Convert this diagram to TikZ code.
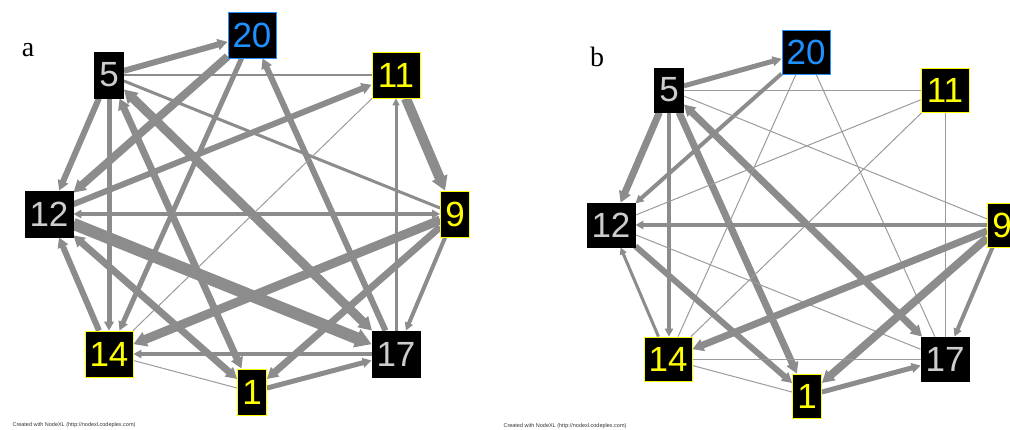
\documentclass[tikz,border=0pt]{standalone}
\usepackage{fontspec}
\setmainfont{Liberation Serif}
\newfontfamily\numfont{Liberation Sans}
\usetikzlibrary{arrows.meta}
\pgfdeclarelayer{bg}
\pgfsetlayers{bg,main}
\definecolor{eg}{RGB}{140,140,140}
\definecolor{eglight}{RGB}{155,155,155}
\definecolor{nblue}{RGB}{30,144,255}
\definecolor{ngrey}{RGB}{205,205,205}
\definecolor{nyel}{RGB}{255,255,0}
\tikzset{
 nbox/.style={rectangle, fill=black, inner sep=0pt, line width=0.8pt,
   font=\numfont\fontsize{35}{35}\selectfont},
 pa/.style={minimum height=46pt},
 pb/.style={minimum height=44pt},
 wide/.style={minimum width=48pt},
 narrow/.style={minimum width=29pt},
 gtxt/.style={nbox, draw=black, text=ngrey},
 ytxt/.style={nbox, draw=nyel, text=nyel},
 btxt/.style={nbox, draw=nblue, text=nblue},
 lnk/.style={draw=eg, line width=#1},
 hair/.style={draw=eglight, line width=1pt},
 ntip/.tip={Triangle[length=4pt 1.0, width=3pt 1.3]},
 fwd/.style={-ntip},
 both/.style={ntip-ntip},
 plabel/.style={font=\fontsize{28}{28}\selectfont},
 foot/.style={font=\numfont\fontsize{5.5}{6}\selectfont, anchor=west, text=black!80},
}
\begin{document}
\begin{tikzpicture}[x=1pt,y=-1pt]
\useasboundingbox (0,0) rectangle (1010,429);
\clip (0,0) rectangle (1010,429);

% ---------- panel a nodes ----------
\node[plabel] (la) at (28,50) {a};
\node[btxt,wide,pa] (a20) at (252,35) {20};
\node[gtxt,narrow,pa] (a5) at (109,75) {5};
\node[ytxt,wide,pa] (a11) at (396,75) {11};
\node[gtxt,wide,pa] (a12) at (49,214) {12};
\node[ytxt,narrow,pa] (a9) at (455,214) {9};
\node[ytxt,wide,pa] (a14) at (109,354) {14};
\node[gtxt,wide,pa] (a17) at (396,354) {17};
\node[ytxt,narrow,pa] (a1) at (252,392) {1};
\node[foot] (fa) at (9,425) {Created with NodeXL (http://nodexl.codeplex.com)};

% ---------- panel b nodes ----------
\node[plabel] (lb) at (597,57) {b};
\node[btxt,wide,pb] (b20) at (806,52) {20};
\node[gtxt,narrow,pb] (b5) at (669,90) {5};
\node[ytxt,wide,pb] (b11) at (945,90) {11};
\node[gtxt,wide,pb] (b12) at (611,225) {12};
\node[ytxt,narrow,pb] (b9) at (1002,225) {9};
\node[ytxt,wide,pb] (b14) at (668,359) {14};
\node[gtxt,wide,pb] (b17) at (945,359) {17};
\node[ytxt,narrow,pb] (b1) at (807,396) {1};
\node[foot] (fb) at (500,426) {Created with NodeXL (http://nodexl.codeplex.com)};

\begin{pgfonlayer}{bg}
% ---------- panel a edges ----------
\draw[lnk=6pt,fwd] (a5) -- (a20);
\draw[lnk=2pt] (a5) -- (a11);
\draw[lnk=6pt,fwd] (a5) -- (a12);
\draw[lnk=8pt,fwd] (a20) -- (a12);
\draw[lnk=6pt,fwd] (a12) -- (a11);
\draw[lnk=5pt,fwd] (a5.south) -- (a14.north -| a5.south);
\draw[lnk=5pt,fwd] (a20) -- (a14);
\draw[lnk=7pt,both] (a5) -- (a1);
\draw[lnk=9pt,both] (a5) -- (a17);
\draw[lnk=3pt] (a5) -- (a9);
\draw[lnk=6pt,fwd] (a17) -- (a20);
\draw[lnk=10pt,fwd] (a11) -- (a9);
\draw[lnk=3pt,fwd] (a17) -- (a11);
\draw[hair] (a14) -- (a11);
\draw[lnk=4pt,both] (a12) -- (a9);
\draw[lnk=12pt,fwd] (a12) -- (a17);
\draw[lnk=7pt,both] (a12) -- (a1);
\draw[lnk=6pt,fwd] (a14) -- (a12);
\draw[lnk=9pt,fwd] (a9) -- (a14);
\draw[lnk=4pt,fwd] (a17) -- (a14);
\draw[hair] (a14) -- (a1);
\draw[lnk=5pt,fwd] (a1) -- (a17);
\draw[lnk=7pt,fwd] (a9) -- (a1);
\draw[lnk=4pt,fwd] (a9) -- (a17);

% ---------- panel b edges ----------
\draw[lnk=5pt,fwd] (b5) -- (b20);
\draw[hair] (b5) -- (b11);
\draw[lnk=7pt,fwd] (b5) -- (b12);
\draw[lnk=4pt,fwd] (b20) -- (b12);
\draw[lnk=4pt,fwd] (b5.south) -- (b14.north -| b5.south);
\draw[lnk=7pt,fwd] (b5) -- (b1);
\draw[lnk=7pt,both] (b5) -- (b17);
\draw[hair] (b5) -- (b9);
\draw[hair] (b20) -- (b14);
\draw[hair] (b20) -- (b17);
\draw[hair] (b11) -- (b12);
\draw[hair] (b11) -- (b14);
\draw[hair] (b11) -- (b17);
\draw[lnk=4pt,fwd] (b9) -- (b12);
\draw[hair] (b12) -- (b17);
\draw[lnk=6pt,fwd] (b12) -- (b1);
\draw[lnk=3pt,fwd] (b14) -- (b12);
\draw[lnk=7pt,fwd] (b9) -- (b14);
\draw[lnk=8pt,fwd] (b9) -- (b1);
\draw[lnk=4pt,fwd] (b9) -- (b17);
\draw[hair] (b14) -- (b17);
\draw[hair] (b14) -- (b1);
\draw[lnk=5pt,fwd] (b1) -- (b17);
\end{pgfonlayer}
\end{tikzpicture}
\end{document}
